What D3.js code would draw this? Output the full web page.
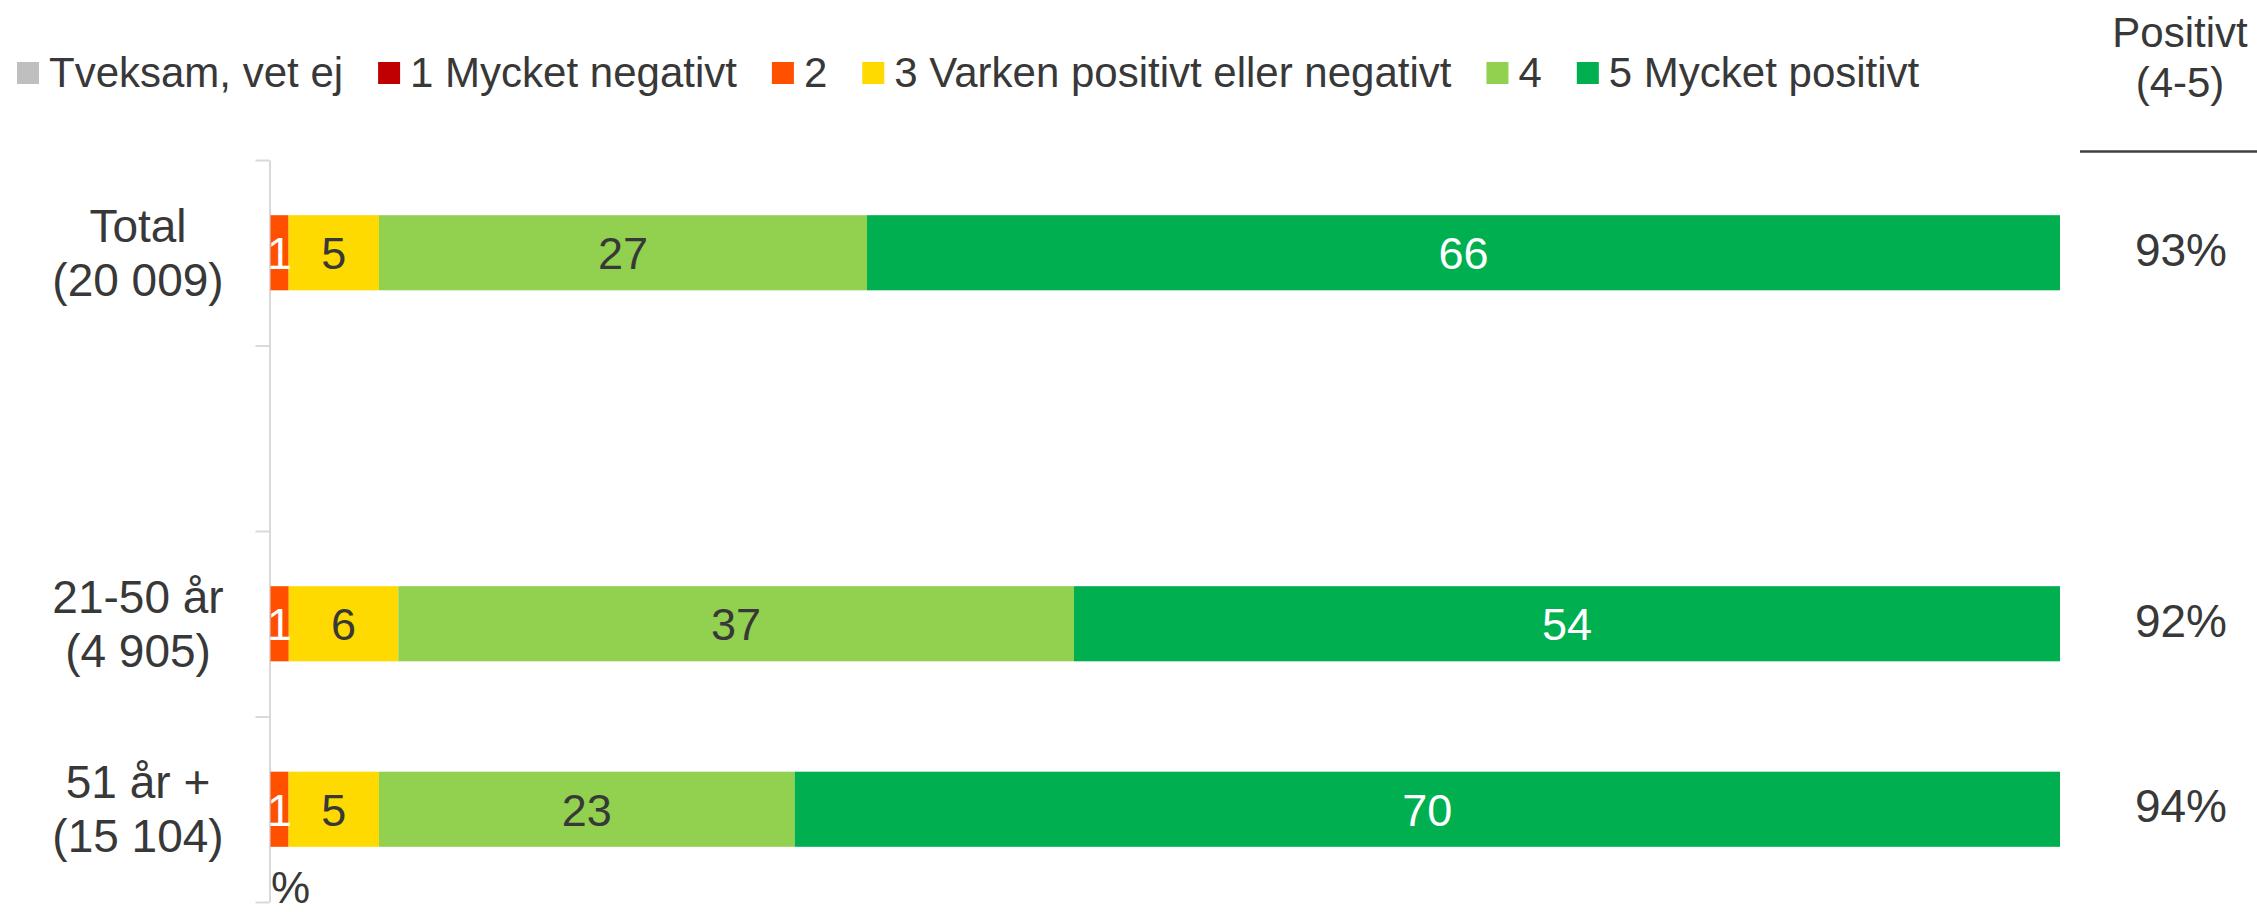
<!DOCTYPE html>
<html>
<head>
<meta charset="utf-8">
<script src="https://cdn.jsdelivr.net/npm/d3@7"></script>
<style>
  body { margin: 0; background: #fff; }
  text { font-family: "Liberation Sans", Arial, sans-serif; fill: #383838; }
</style>
</head>
<body>
<svg id="chart" width="2257" height="912"></svg>
<script>
// categories (the blank one is an empty row in the chart)
const categories = ["Total", "", "21-50 år", "51 år +"];
const counts = ["(20 009)", "", "(4 905)", "(15 104)"];

// answer series, values in percent
const seriesNames = ["Tveksam, vet ej", "1 Mycket negativt", "2", "3 Varken positivt eller negativt", "4", "5 Mycket positivt"];
const tveksam   = [0, null, 0, 0];
const negativ1  = [0, null, 0, 0];
const negativ2  = [1, null, 1, 1];
const neutral3  = [5, null, 6, 5];
const positiv4  = [27, null, 37, 23];
const positiv5  = [66, null, 54, 70];
const positivt  = [93, null, 92, 94];

const colors = ["#BFBFBF", "#C00000", "#FF5000", "#FFDA00", "#92D050", "#00B050"];
const labelColors = ["#383838", "#ffffff", "#ffffff", "#383838", "#383838", "#ffffff"];

const allSeries = [tveksam, negativ1, negativ2, neutral3, positiv4, positiv5];

let rows = [];
categories.forEach(function(c, i) {
    if (positiv5[i] == null) return;
    let r = {cat: c};
    seriesNames.forEach(function(k, j) { r[k] = allSeries[j][i]; });
    rows.push(r);
});

let svg = d3.select("#chart");

let x = d3.scaleLinear().domain([0, 1]).range([270.5, 2060]);
let y = d3.scaleBand().domain(categories).range([160, 902]).padding(0);
let yEdge = d3.scaleLinear().domain([0, categories.length]).range([160, 902]);
let barH = y.bandwidth() * 0.405;

let stack = d3.stack().keys(seriesNames).offset(d3.stackOffsetExpand);
let stacked = stack(rows);

// axis with ticks between categories
let gY = svg.append("g")
    .attr("transform", "translate(269.5,0)")
    .call(d3.axisLeft(yEdge).tickValues(d3.range(categories.length + 1)).tickSize(14).tickSizeOuter(0).tickFormat(""));
gY.selectAll("path, line").attr("stroke", "#D9D9D9").attr("stroke-width", 2);

// bars
let layers = svg.selectAll("g.layer")
    .data(stacked)
    .enter()
    .append("g")
    .attr("class", "layer")
    .attr("fill", function(d, i) { return colors[i]; });

layers.selectAll("rect")
    .data(function(d) { return d; })
    .enter()
    .append("rect")
    .attr("x", function(d) { return x(d[0]); })
    .attr("y", function(d) { return y(d.data.cat) + (y.bandwidth() - barH) / 2; })
    .attr("width", function(d) { return x(d[1]) - x(d[0]); })
    .attr("height", barH);

// values inside the bars
stacked.forEach(function(s, i) {
    svg.selectAll("text.val" + i)
        .data(s.filter(function(d) { return d.data[s.key] > 0; }))
        .enter()
        .append("text")
        .attr("class", "val" + i)
        .attr("x", function(d) { return (x(d[0]) + x(d[1])) / 2; })
        .attr("y", function(d) { return y(d.data.cat) + y.bandwidth() / 2 + 16.5; })
        .attr("text-anchor", "middle")
        .attr("font-size", "45px")
        .style("fill", labelColors[i])
        .text(function(d) { return d.data[s.key]; });
});

// category labels, two lines
categories.forEach(function(c, i) {
    if (c === "") return;
    let cy = y(c) + y.bandwidth() / 2;
    svg.append("text")
        .attr("x", 138).attr("y", cy - 11)
        .attr("text-anchor", "middle")
        .attr("font-size", "46px")
        .text(c);
    svg.append("text")
        .attr("x", 138).attr("y", cy + 43)
        .attr("text-anchor", "middle")
        .attr("font-size", "46px")
        .text(counts[i]);
});

// % under the axis
svg.append("text")
    .attr("x", 271)
    .attr("y", 903)
    .attr("font-size", "44px")
    .text("%");

// positive column
svg.append("text").attr("x", 2180).attr("y", 46.5)
    .attr("text-anchor", "middle").attr("font-size", "42px").text("Positivt");
svg.append("text").attr("x", 2180).attr("y", 97)
    .attr("text-anchor", "middle").attr("font-size", "42px").text("(4-5)");
svg.append("line")
    .attr("x1", 2080).attr("x2", 2257)
    .attr("y1", 151.5).attr("y2", 151.5)
    .attr("stroke", "#404040")
    .attr("stroke-width", 2.5);

svg.selectAll("text.pos")
    .data(categories.filter(function(c, i) { return positivt[i] != null; }))
    .enter()
    .append("text")
    .attr("class", "pos")
    .attr("x", 2181)
    .attr("y", function(c) { return y(c) + y.bandwidth() / 2 + 13; })
    .attr("text-anchor", "middle")
    .attr("font-size", "46px")
    .text(function(c) { return positivt[categories.indexOf(c)] + "%"; });

// legend
let lx = 17;
seriesNames.forEach(function(name, i) {
    svg.append("rect")
        .attr("x", lx).attr("y", 62)
        .attr("width", 22).attr("height", 22)
        .attr("fill", colors[i]);
    let t = svg.append("text")
        .attr("x", lx + 32)
        .attr("y", 86.5)
        .attr("font-size", "42px")
        .text(name);
    lx = lx + 32 + t.node().getComputedTextLength() + 35;
});
</script>
</body>
</html>
